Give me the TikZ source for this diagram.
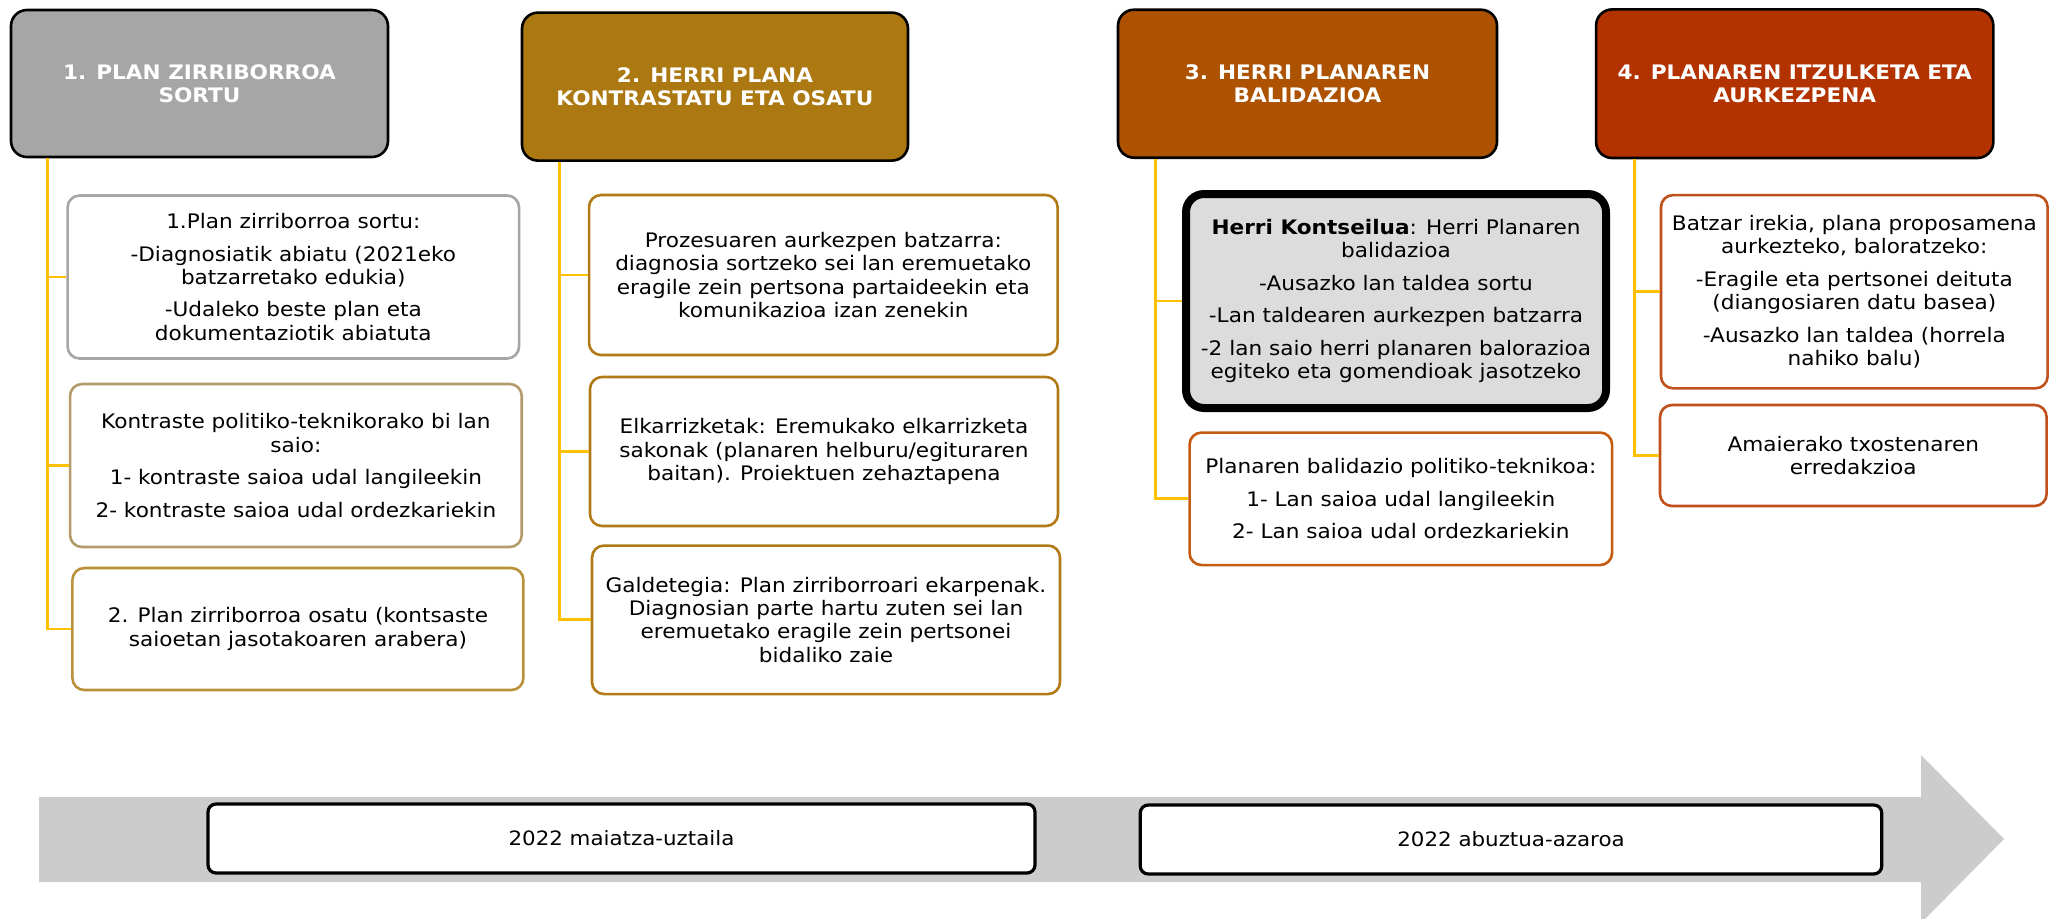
\documentclass[tikz,border=0pt]{standalone}
\usepackage{fontspec}
\setmainfont{DejaVu Sans}[FakeStretch=1.08]
\definecolor{hgray}{HTML}{A6A6A6}
\definecolor{hgold}{HTML}{AB7811}
\definecolor{horange}{HTML}{AD5200}
\definecolor{hred}{HTML}{B33300}
\definecolor{bA1}{HTML}{A6A6A6}
\definecolor{bA2}{HTML}{B39B6B}
\definecolor{bA3}{HTML}{B8913A}
\definecolor{bB}{HTML}{B27A17}
\definecolor{bC}{HTML}{C55A11}
\definecolor{bD}{HTML}{C0501C}
\definecolor{cfill}{HTML}{DCDCDC}
\definecolor{band}{HTML}{CCCCCC}
\definecolor{conncol}{HTML}{FFC000}
\begin{document}
\begin{tikzpicture}[x=0.5pt,y=-0.5pt,
  hdr/.style={draw=black, line width=1.3pt, rounded corners=8pt, inner sep=0pt,
    align=center, text=white, font=\fontsize{10}{11.6}\selectfont\bfseries},
  box/.style={draw, line width=1.3pt, rounded corners=6pt, fill=white, inner sep=0pt,
    align=center, font=\fontsize{10}{11.65}\selectfont},
  council/.style={draw=black, line width=4pt, rounded corners=9pt, fill=cfill, inner sep=0pt,
    align=center, font=\fontsize{10}{11.65}\selectfont},
  datebox/.style={draw=black, line width=1.6pt, rounded corners=4pt, fill=white, inner sep=0pt,
    align=center, font=\fontsize{9.9}{11.6}\selectfont},
  conn/.style={draw=conncol, line width=1.4pt}]
\useasboundingbox (0,0) rectangle (2060,918);
\fill[white] (0,0) rectangle (2060,918);

% timeline arrow
\begin{scope}
\clip (0,0) rectangle (2060,918);
\fill[band] (39,797) -- (1921,797) -- (1921,755) -- (2004,839) -- (1921,923) -- (1921,882) -- (39,882) -- cycle;
\end{scope}
\node[datebox, minimum width=413.5pt, minimum height=34.5pt] (d1) at (621.5,838.5) {2022 maiatza-uztaila};
\node[datebox, minimum width=370.75pt, minimum height=34.5pt] (d2) at (1511,839.5) {2022 abuztua-azaroa};

% headers
\node[hdr, fill=hgray, minimum width=188.5pt, minimum height=73.5pt] (h1) at (199.5,83.5) {1. PLAN ZIRRIBORROA\\SORTU};
\node[hdr, fill=hgold, minimum width=193pt, minimum height=74pt] (h2) at (715,86.6) {2. HERRI PLANA\\KONTRASTATU ETA OSATU};
\node[hdr, fill=horange, minimum width=189.5pt, minimum height=74pt] (h3) at (1307.5,83.7) {3. HERRI PLANAREN\\BALIDAZIOA};
\node[hdr, fill=hred, minimum width=198.6pt, minimum height=74.3pt] (h4) at (1794.7,83.7) {4. PLANAREN ITZULKETA ETA\\AURKEZPENA};

% column 1
\node[box, draw=bA1, minimum width=225.75pt, minimum height=81.5pt] (a1) at (293.3,277)
  {1.Plan zirriborroa sortu:\\[4.6pt]-Diagnosiatik abiatu (2021eko\\batzarretako edukia)\\[4.6pt]-Udaleko beste plan eta\\dokumentaziotik abiatuta};
\node[box, draw=bA2, minimum width=225.85pt, minimum height=81.5pt] (a2) at (295.9,465.5)
  {Kontraste politiko-teknikorako bi lan\\saio:\\[4.6pt]1- kontraste saioa udal langileekin\\[4.6pt]2- kontraste saioa udal ordezkariekin};
\node[box, draw=bA3, minimum width=225.5pt, minimum height=61pt] (a3) at (297.9,629)
  {2. Plan zirriborroa osatu (kontsaste\\saioetan jasotakoaren arabera)};

% column 2
\node[box, draw=bB, minimum width=234.25pt, minimum height=80pt] (b1) at (823.3,275)
  {Prozesuaren aurkezpen batzarra:\\diagnosia sortzeko sei lan eremuetako\\eragile zein pertsona partaideekin eta\\komunikazioa izan zenekin};
\node[box, draw=bB, minimum width=234pt, minimum height=74.5pt] (b2) at (824,451.5)
  {Elkarrizketak: Eremukako elkarrizketa\\sakonak (planaren helburu/egituraren\\baitan). Proiektuen zehaztapena};
\node[box, draw=bB, minimum width=234pt, minimum height=74.25pt] (b3) at (826,619.8)
  {Galdetegia: Plan zirriborroari ekarpenak.\\Diagnosian parte hartu zuten sei lan\\eremuetako eragile zein pertsonei\\bidaliko zaie};

% column 3
\node[council, minimum width=210pt, minimum height=107pt] (c1) at (1396,301)
  {\textbf{Herri Kontseilua}: Herri Planaren\\balidazioa\\[4.6pt]-Ausazko lan taldea sortu\\[4.6pt]-Lan taldearen aurkezpen batzarra\\[4.6pt]-2 lan saio herri planaren balorazioa\\egiteko eta gomendioak jasotzeko};
\node[box, draw=bC, minimum width=211.25pt, minimum height=66.25pt] (c2) at (1400.8,498.8)
  {Planaren balidazio politiko-teknikoa:\\[4.6pt]1- Lan saioa udal langileekin\\[4.6pt]2- Lan saioa udal ordezkariekin};

% column 4
\node[box, draw=bD, minimum width=193.3pt, minimum height=96.6pt] (e1) at (1854.3,291.7)
  {Batzar irekia, plana proposamena\\aurkezteko, baloratzeko:\\[4.6pt]-Eragile eta pertsonei deituta\\(diangosiaren datu basea)\\[4.6pt]-Ausazko lan taldea (horrela\\nahiko balu)};
\node[box, draw=bD, minimum width=193.3pt, minimum height=50.5pt] (e2) at (1853.3,455.5)
  {Amaierako txostenaren\\erredakzioa};

% connectors
\coordinate (t1) at ([xshift=19pt]h1.south west);
\coordinate (t2) at ([xshift=19.5pt]h2.south west);
\coordinate (t3) at ([xshift=19.2pt]h3.south west);
\coordinate (t4) at ([xshift=20pt]h4.south west);
\draw[conn] (t1) |- (a1.west);
\draw[conn] (t1) |- (a2.west);
\draw[conn] (t1) |- (a3.west);
\draw[conn] (t2) |- (b1.west);
\draw[conn] (t2) |- (b2.west);
\draw[conn] (t2) |- (b3.west);
\draw[conn] (t3) |- (c1.west);
\draw[conn] (t3) |- (c2.west);
\draw[conn] (t4) |- (e1.west);
\draw[conn] (t4) |- (e2.west);
\end{tikzpicture}
\end{document}
